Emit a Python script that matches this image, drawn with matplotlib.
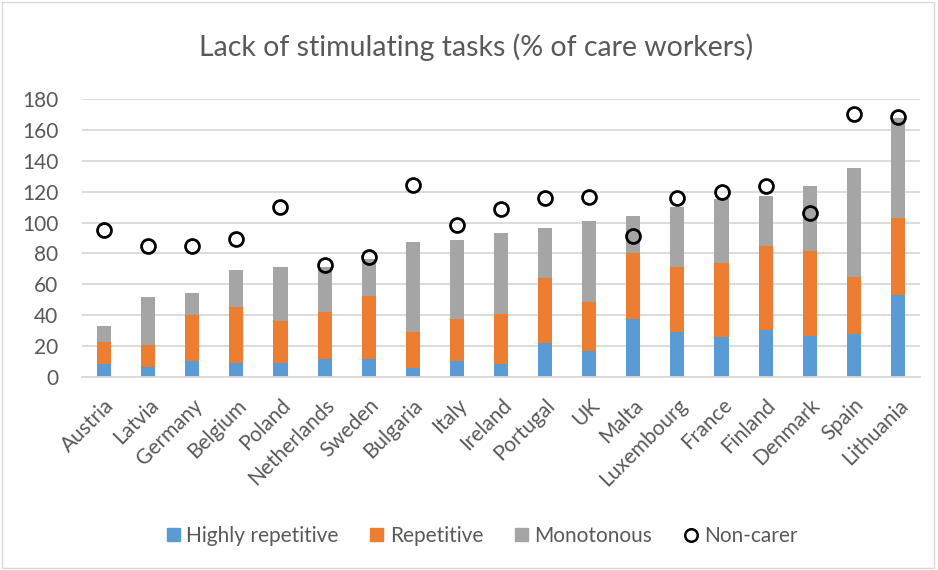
#!/usr/bin/env python3
"""Lack of stimulating tasks (% of care workers) - stacked bars with non-carer markers."""

import numpy as np
import matplotlib
matplotlib.use("Agg")
import matplotlib.pyplot as plt
from matplotlib.lines import Line2D
from matplotlib.patches import Patch

countries = ["Austria", "Latvia", "Germany", "Belgium", "Poland", "Netherlands",
             "Sweden", "Bulgaria", "Italy", "Ireland", "Portugal", "UK", "Malta",
             "Luxembourg", "France", "Finland", "Denmark", "Spain", "Lithuania"]

# segment heights (each series stacked on the previous)
highly_repetitive = [8.2, 6.5, 10.2, 9.3, 9.3, 11.9, 11.5, 6.1, 10.6, 8.4,
                     22.1, 16.9, 37.4, 29.4, 26.2, 30.3, 26.8, 27.9, 52.8]
repetitive = [14.3, 14.3, 30.0, 35.9, 26.8, 30.3, 41.0, 23.3, 27.0, 32.7,
              42.1, 31.7, 42.8, 41.5, 47.3, 54.2, 54.7, 37.0, 49.9]
monotonous = [10.6, 31.3, 14.1, 24.4, 35.0, 29.2, 24.0, 58.0, 51.0, 52.3,
              32.2, 52.4, 24.2, 39.4, 42.0, 32.7, 42.4, 70.5, 65.3]
non_carer = [94.9, 85.0, 84.5, 89.3, 110.0, 72.2, 77.4, 124.1, 98.4, 108.8,
             115.9, 116.5, 91.0, 116.1, 119.8, 123.7, 106.2, 170.4, 168.6]

BLUE = "#5b9bd5"
ORANGE = "#ed7d31"
GRAY = "#a5a5a5"
TEXT = "#595959"

plt.rcParams["font.family"] = ["Lato", "DejaVu Sans"]


def main():
    fig = plt.figure(figsize=(9.38, 5.70), dpi=100)
    ax = fig.add_axes([82 / 938, 1 - 377 / 570, 838 / 938, 278 / 570])

    x = np.arange(len(countries))
    hr = np.array(highly_repetitive)
    rp = np.array(repetitive)
    mo = np.array(monotonous)
    w = 0.32

    ax.bar(x, hr, w, color=BLUE, zorder=2)
    ax.bar(x, rp, w, bottom=hr, color=ORANGE, zorder=2)
    ax.bar(x, mo, w, bottom=hr + rp, color=GRAY, zorder=2)
    ax.plot(x, non_carer, linestyle="none", marker="o", markersize=10,
            markerfacecolor="none", markeredgecolor="black", markeredgewidth=2,
            zorder=3)

    ax.set_xlim(-0.5, len(countries) - 0.5)
    ax.set_ylim(0, 180)
    ax.set_yticks(range(0, 181, 20))
    ax.grid(axis="y", color="#d9d9d9", linewidth=1.3, zorder=0)
    ax.set_axisbelow(True)
    for side in ["top", "right", "left"]:
        ax.spines[side].set_visible(False)
    ax.spines["bottom"].set_color("#d9d9d9")
    ax.spines["bottom"].set_linewidth(1.3)
    ax.tick_params(length=0, colors=TEXT, labelsize=15)
    ax.tick_params(axis="y", pad=17)
    ax.tick_params(axis="x", pad=13)

    ax.set_xticks(x)
    ax.set_xticklabels(countries, rotation=45, ha="right", rotation_mode="anchor")

    fig.text(476 / 938, 1 - 47 / 570, "Lack of stimulating tasks (% of care workers)",
             ha="center", va="center", fontsize=20.5, color=TEXT)

    handles = [
        Patch(color=BLUE, label="Highly repetitive"),
        Patch(color=ORANGE, label="Repetitive"),
        Patch(color=GRAY, label="Monotonous"),
        Line2D([], [], linestyle="none", marker="o", markersize=9,
               markerfacecolor="none", markeredgecolor="black",
               markeredgewidth=1.8, label="Non-carer"),
    ]
    fig.legend(handles=handles, loc="center", bbox_to_anchor=(482 / 938, 1 - 536 / 570),
               ncol=4, frameon=False, fontsize=15, labelcolor=TEXT,
               handlelength=0.62, handleheight=0.62, handletextpad=0.3,
               columnspacing=1.55)

    fig.patches.append(plt.Rectangle((0.002, 0.004), 0.994, 0.992,
                                      transform=fig.transFigure, fill=False,
                                      edgecolor="#d9d9d9", linewidth=1))

    fig.savefig("out.png", dpi=100)
    plt.close(fig)


if __name__ == "__main__":
    main()
